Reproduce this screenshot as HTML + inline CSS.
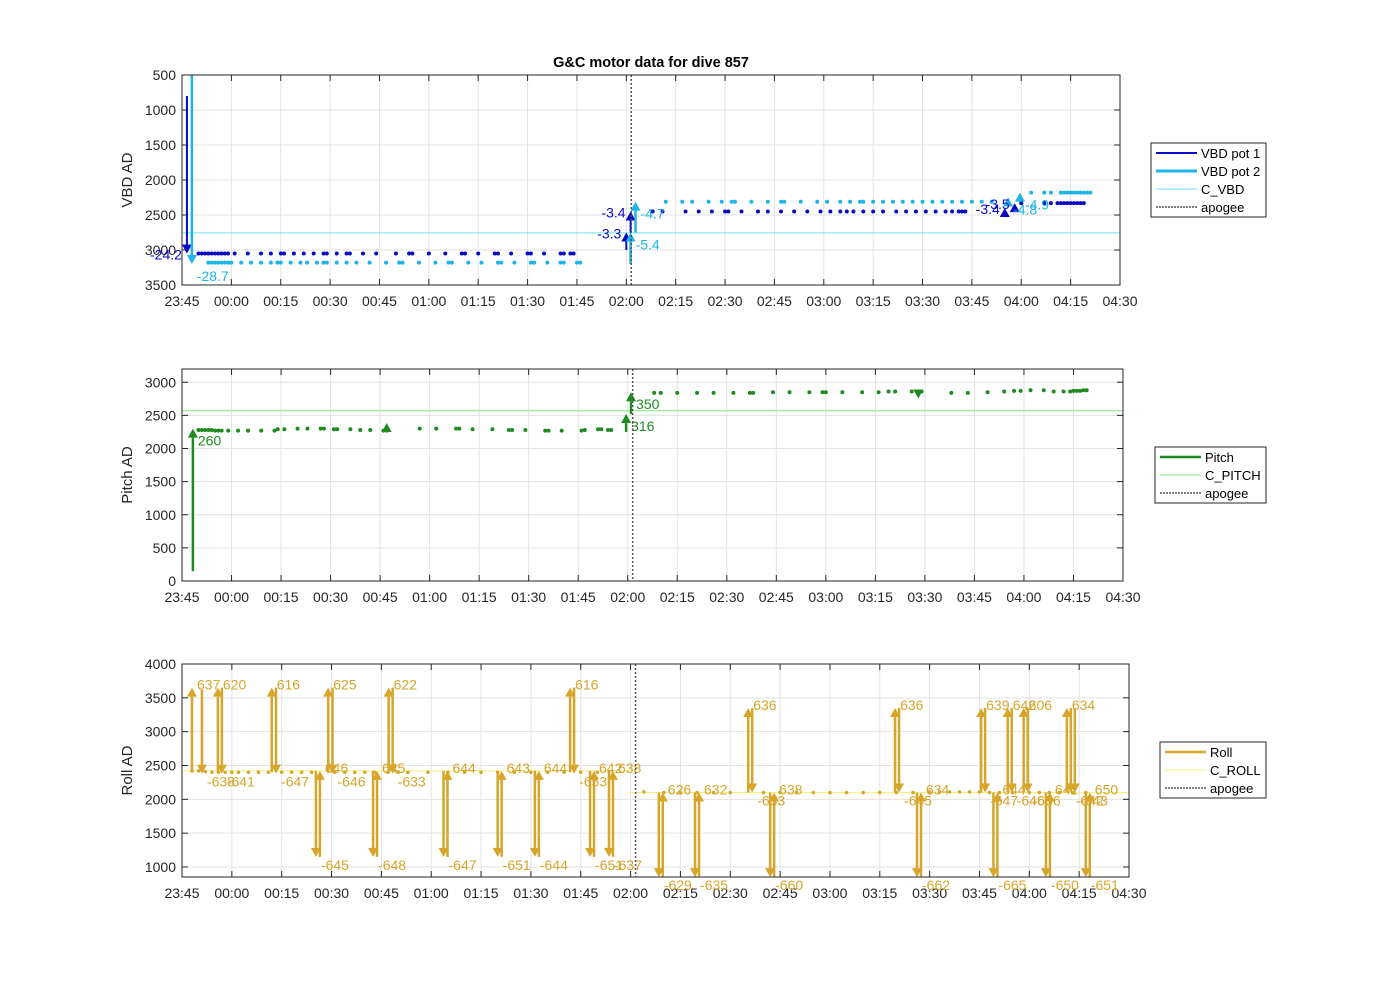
<!DOCTYPE html>
<html><head><meta charset="utf-8"><style>
html,body{margin:0;padding:0;background:#fff;}
svg{display:block;font-family:"Liberation Sans",Arial,sans-serif;}
</style></head><body>
<svg id="chart" width="1400" height="986" viewBox="0 0 1400 986" xmlns="http://www.w3.org/2000/svg">
<text x="651" y="67" text-anchor="middle" font-size="14.5" font-weight="bold" fill="#000">G&amp;C motor data for dive 857</text>
</svg>
<script>
// ---- data (time in minutes after 23:45) ----
const xTickLabels = ["23:45","00:00","00:15","00:30","00:45","01:00","01:15","01:30","01:45","02:00","02:15","02:30","02:45","03:00","03:15","03:30","03:45","04:00","04:15","04:30"];
const apogeeT = 136.5;
// VBD
const vbdTicks = [500,1000,1500,2000,2500,3000,3500];
const pot1T = [5,6,7,8,9,10,11,12,13,14,16,20,24,27,30,31,34,37,40,43,44,47,50,51,55,59,65,69,70,75,80,85,86,90,95,96,100,105,106,110,115,116,118,119,
  143,146,153,157,161,165,166,170,175,178,182,186,190,194,197,200,202,204,207,210,213,217,220,223,226,229,232,234,236,237,238,
  255,262,264,266,267,268,269,270,271,272,273,274];
const pot1V = [3050,3050,3050,3050,3050,3050,3050,3050,3050,3050,3050,3050,3050,3050,3050,3050,3050,3050,3050,3050,3050,3050,3050,3050,3050,3050,3050,3050,3050,3050,3050,3050,3050,3050,3050,3050,3050,3050,3050,3050,3050,3050,3050,3050,
  2450,2450,2450,2450,2450,2450,2450,2450,2450,2450,2450,2450,2450,2450,2450,2450,2450,2450,2450,2450,2450,2450,2450,2450,2450,2450,2450,2450,2450,2450,2450,
  2330,2330,2330,2330,2330,2330,2330,2330,2330,2330,2330,2330];
const pot2T = [8,9,10,11,12,13,14,15,18,21,24,27,29,30,33,36,38,41,43,44,47,50,53,57,62,66,67,72,77,81,82,87,91,96,97,101,106,107,111,115,116,120,121,
  147,152,155,160,164,167,168,173,178,182,183,188,193,196,200,203,206,207,210,213,216,219,222,225,228,231,234,237,240,243,246,
  258,262,264,267,268,269,270,271,272,273,274,275,276];
const pot2V = [3180,3180,3180,3180,3180,3180,3180,3180,3180,3180,3180,3180,3180,3180,3180,3180,3180,3180,3180,3180,3180,3180,3180,3180,3180,3180,3180,3180,3180,3180,3180,3180,3180,3180,3180,3180,3180,3180,3180,3180,3180,3180,3180,
  2310,2310,2310,2310,2310,2310,2310,2310,2310,2310,2310,2310,2310,2310,2310,2310,2310,2310,2310,2310,2310,2310,2310,2310,2310,2310,2310,2310,2310,2310,2310,
  2180,2180,2180,2180,2180,2180,2180,2180,2180,2180,2180,2180,2180];
const pot1ArrT = [1.5,135,136.3,250,253];
const pot1ArrFrom = [800,3000,2750,2450,2400];
const pot1ArrTo = [3050,2750,2450,2400,2330];
const pot1ArrLbl = ["-24.2","-3.3","-3.4","-3.4","-3.5"];
const pot2ArrT = [3,136.3,137.8,251,254.6];
const pot2ArrFrom = [400,3200,2750,2310,2250];
const pot2ArrTo = [3200,2750,2310,2250,2180];
const pot2ArrLbl = ["-28.7","-5.4","-4.7","-4.8","-4.9"];
const cVbd = 2755;
// Pitch
const pitchTicks = [0,500,1000,1500,2000,2500,3000];
const pitchT = [5,6,7,8,9,10,11,12,14,17,20,24,28,29,31,35,38,42,43,46,47,51,54,57,61,62,72,77,83,84,88,94,99,100,104,110,111,115,121,122,126,127,129,130,
  143,145,150,156,161,167,172,173,179,184,190,194,195,200,206,211,214,216,221,224,233,238,244,249,252,254,257,261,264,267,269,270,271,272,273,274];
const pitchV = [2280,2280,2280,2280,2280,2270,2270,2270,2270,2270,2270,2270,2270,2290,2290,2300,2300,2300,2300,2290,2290,2290,2280,2280,2270,2270,2300,2300,2300,2300,2290,2290,2280,2280,2280,2270,2270,2270,2270,2280,2290,2290,2280,2280,
  2840,2840,2840,2840,2840,2840,2840,2840,2850,2850,2850,2850,2850,2850,2850,2850,2860,2860,2860,2860,2840,2840,2850,2860,2870,2870,2880,2880,2860,2860,2860,2870,2870,2870,2880,2880];
const pitchArrT = [3.3,134.5,136];
const pitchArrFrom = [150,2250,2520];
const pitchArrTo = [2300,2520,2850];
const pitchArrLbl = ["260","316","350"];
const pitchTriT = [62,223];
const pitchTriV = [2310,2830];
const pitchTriDir = [1,-1];
const cPitch = 2570;
// Roll
const rollTicks = [1000,1500,2000,2500,3000,3500,4000];
const rollDotT = [3,5,7,9,11,13,15,17,20,23,26,30,33,36,39,46,49,52,55,58,62,65,68,74,80,85,90,95,100,105,110,115,120,125,
  139,145,150,155,160,165,175,180,185,190,195,200,205,210,215,220,225,228,231,234,237,240,243,246,250,255,258,261,264,268,272];
const rollDotV = [2420,2420,2410,2400,2400,2400,2400,2400,2400,2400,2400,2400,2400,2400,2400,2400,2400,2400,2400,2400,2400,2400,2400,2400,2400,2400,2400,2400,2400,2400,2400,2400,2400,2400,
  2110,2100,2100,2100,2100,2100,2100,2100,2100,2100,2100,2100,2100,2100,2100,2100,2110,2110,2110,2110,2110,2110,2100,2100,2100,2100,2100,2100,2100,2100,2100];
const rollArrT = [3,6,10.8,12,27,28.3,40.3,41.5,44,45.3,57.5,58.7,62.2,63.4,78.7,79.9,95,96.2,106.2,107.4,116.8,118,122.8,124,128.5,129.7,
  143.5,144.7,154.4,155.6,170.4,171.6,177,178.2,214.6,215.8,221.2,222.4,240.5,241.7,244.2,245.4,248.5,249.7,253.3,254.5,260,261.2,266.3,267.5,268.7,272,273.2];
const rollArrFrom = [2420,3620,2400,3650,2400,3650,2420,1150,2400,3650,2420,1150,2400,3650,2420,1150,2420,1150,2420,1150,2400,3650,2420,1150,2420,1150,
  2100,850,2100,850,2100,3350,2100,850,2100,3350,2100,850,2100,3350,2100,850,2100,3350,2100,3350,2100,850,2100,3350,3350,2100,850];
const rollArrTo = [3650,2380,3650,2380,3650,2380,1150,2420,3650,2380,1150,2420,3650,2380,1150,2420,1150,2420,1150,2420,3650,2380,1150,2420,1150,2420,
  850,2100,850,2100,3350,2100,850,2100,3350,2100,850,2100,3350,2100,850,2100,3350,2100,3350,2100,850,2100,3350,2100,2100,850,2100];
const rollArrLbl = ["637","-638","620","-641","616","-647","-645","646","625","-646","-648","645","622","-633","-647","644","-651","643","-644","644","616","-653","-651","642","-637","638",
  "-629","626","-635","632","636","-633","-660","638","636","-645","-662","634","639","-647","-665","644","642","-646","606","-636","-650","641","634","-642","-643","-651","650"];
const cRollPre = 2420, cRollPost = 2100;

// ---- drawing ----
const svg = document.getElementById('chart');
const NS = 'http://www.w3.org/2000/svg';
function mk(tag, attrs, parent){const e=document.createElementNS(NS,tag);for(const k in attrs)e.setAttribute(k,attrs[k]);(parent||svg).appendChild(e);return e;}
function makePanel(p){
  const g = mk('g',{});
  
  
  p.g=g;
  p.x=t=>p.x0+(p.x1-p.x0)*t/285;
  p.y=v=>p.rev? p.top+(v-p.ymin)/(p.ymax-p.ymin)*(p.bot-p.top) : p.bot-(v-p.ymin)/(p.ymax-p.ymin)*(p.bot-p.top);
  mk('rect',{x:p.x0,y:p.top,width:p.x1-p.x0,height:p.bot-p.top,fill:'#fff'},g);
  xTickLabels.forEach((l,i)=>{const X=p.x(i*15);
    mk('line',{x1:X,x2:X,y1:p.top,y2:p.bot,stroke:'#e3e3e3','stroke-width':1},g);
    mk('line',{x1:X,x2:X,y1:p.bot,y2:p.bot-6,stroke:'#262626'},g);
    mk('line',{x1:X,x2:X,y1:p.top,y2:p.top+6,stroke:'#262626'},g);
    const t=mk('text',{x:X,y:p.bot+21,'text-anchor':'middle','font-size':14,fill:'#262626'},g);t.textContent=l;
    
    
  });
  p.ticks.forEach(v=>{const Y=p.y(v);
    mk('line',{x1:p.x0,x2:p.x1,y1:Y,y2:Y,stroke:'#e3e3e3'},g);
    mk('line',{x1:p.x0,x2:p.x0+6,y1:Y,y2:Y,stroke:'#262626'},g);
    mk('line',{x1:p.x1,x2:p.x1-6,y1:Y,y2:Y,stroke:'#262626'},g);
    const t=mk('text',{x:p.x0-6,y:Y+5,'text-anchor':'end','font-size':14,fill:'#262626'},g);t.textContent=v;
    
    
  });
  const yt=mk('text',{x:0,y:0,transform:`translate(${p.x0-50},${(p.top+p.bot)/2}) rotate(-90)`,'text-anchor':'middle','font-size':15,fill:'#262626'},g);
  yt.textContent=p.ylabel;
  
  
  p.clip='c'+p.name; const cp=mk('clipPath',{id:p.clip},g); mk('rect',{x:p.x0,y:p.top,width:p.x1-p.x0,height:p.bot-p.top},cp);
  p.data=mk('g',{'clip-path':`url(#${p.clip})`},g);
  return p;
}
function finishPanel(p){
  const X=p.x(apogeeT);
  const a=mk('line',{x1:X,x2:X,y1:p.top,y2:p.bot,stroke:'#555','stroke-width':1.5,'stroke-dasharray':'2,2'},p.g);
  
  
  mk('rect',{x:p.x0,y:p.top,width:p.x1-p.x0,height:p.bot-p.top,fill:'none',stroke:'#262626','stroke-width':1},p.g);
}
function hline(p,v,t0,t1,col,name){const l=mk('line',{x1:p.x(t0),x2:p.x(t1),y1:p.y(v),y2:p.y(v),stroke:col,'stroke-width':1},p.data);
  
  }
function dots(p,T,V,col,r,name){T.forEach((t,i)=>{const c=mk('circle',{cx:p.x(t),cy:p.y(V[i]),r:r,fill:col},p.data);
  
  });}
function arrows(p,T,F,To,L,col,w,name,mode){
  T.forEach((t,i)=>{const X=p.x(t),Y1=p.y(F[i]),Y2=p.y(To[i]);const up=Y2<Y1;
    const h=up?9:-9;
    const g=mk('g',{},p.data);
    
    
    mk('line',{x1:X,x2:X,y1:Y1,y2:Y2+h,stroke:col,'stroke-width':w},g);
    mk('polygon',{points:`${X-5},${Y2+h} ${X+5},${Y2+h} ${X},${Y2}`,fill:col},g);
    let tx;
    if(mode==='left') tx=mk('text',{x:X-5,y:Y2+6,'text-anchor':'end','font-size':14,fill:col},p.g);
    else if(mode==='below') tx=mk('text',{x:X+5,y:Y2+17,'font-size':14,fill:col},p.g);
    else tx=mk('text',{x:X+5,y:up?Y2+2:Y2+13,'font-size':14,fill:col},p.g);
    tx.textContent=L[i];
    
    
  });
}
function legend(x,y,w,items){
  const g=mk('g',{});
  
  
  mk('rect',{x:x,y:y,width:w,height:items.length*18+2,fill:'#fff',stroke:'#262626','stroke-width':1},g);
  items.forEach((it,i)=>{const Y=y+10+i*18;
    const e=mk('g',{},g);
    
    
    mk('line',{x1:x+5,x2:x+46,y1:Y,y2:Y,stroke:it[1],'stroke-width':it[2],'stroke-dasharray':it[3]||'none'},e);
    const t=mk('text',{x:x+50,y:Y+5,'font-size':13,fill:'#000'},e);t.textContent=it[0];
  });
}
// panel 1
const P1=makePanel({name:'vbd-panel',x0:182,x1:1120,top:75,bot:285,ymin:500,ymax:3500,rev:true,ticks:vbdTicks,ylabel:'VBD AD'});
hline(P1,cVbd,0,285,'#6fe3f0','c-vbd-line');
dots(P1,pot1T,pot1V,'#0a0ac4',2,'vbd-pot1-point');
dots(P1,pot2T,pot2V,'#1eb4e8',2,'vbd-pot2-point');
arrows(P1,pot1ArrT,pot1ArrFrom,pot1ArrTo,pot1ArrLbl,'#0a0ac4',2,'vbd-pot1-arrow','left');
arrows(P1,pot2ArrT,pot2ArrFrom,pot2ArrTo,pot2ArrLbl,'#1eb4e8',2.5,'vbd-pot2-arrow','below');
finishPanel(P1);
legend(1151,143,115,[['VBD pot 1','#0a0ac4',2],['VBD pot 2','#1eb4e8',3],['C_VBD','#6fe3f0',1],['apogee','#555',1.5,'2,1']]);
// panel 2
const P2=makePanel({name:'pitch-panel',x0:182,x1:1123,top:369,bot:581,ymin:0,ymax:3200,rev:false,ticks:pitchTicks,ylabel:'Pitch AD'});
hline(P2,cPitch,0,285,'#7fe87f','c-pitch-line');
dots(P2,pitchT,pitchV,'#1f8a1f',2,'pitch-point');
pitchTriT.forEach((t,i)=>{const X=P2.x(t),Y=P2.y(pitchTriV[i]),d=pitchTriDir[i];
  const tr=mk('polygon',{points:`${X-5},${Y+4*d} ${X+5},${Y+4*d} ${X},${Y-5*d}`,fill:'#1f8a1f'},P2.data);
  
  });
arrows(P2,pitchArrT,pitchArrFrom,pitchArrTo,pitchArrLbl,'#1f8a1f',2.5,'pitch-arrow','below');
finishPanel(P2);
legend(1155,447,111,[['Pitch','#1f8a1f',2.5],['C_PITCH','#7fe87f',1],['apogee','#555',1.5,'2,1']]);
// panel 3
const P3=makePanel({name:'roll-panel',x0:182,x1:1129,top:664,bot:877,ymin:852,ymax:4000,rev:false,ticks:rollTicks,ylabel:'Roll AD'});
hline(P3,cRollPre,0,apogeeT,'#f5f07a','c-roll-pre');
hline(P3,cRollPost,apogeeT-2,285,'#f5f07a','c-roll-post');
dots(P3,rollDotT,rollDotV,'#d6a829',1.8,'roll-point');
arrows(P3,rollArrT,rollArrFrom,rollArrTo,rollArrLbl,'#d6a52a',2.5,'roll-arrow','auto');
finishPanel(P3);
legend(1160,742,106,[['Roll','#d6a52a',2.5],['C_ROLL','#f5f07a',1],['apogee','#555',1.5,'2,1']]);
</script>
</body></html>
